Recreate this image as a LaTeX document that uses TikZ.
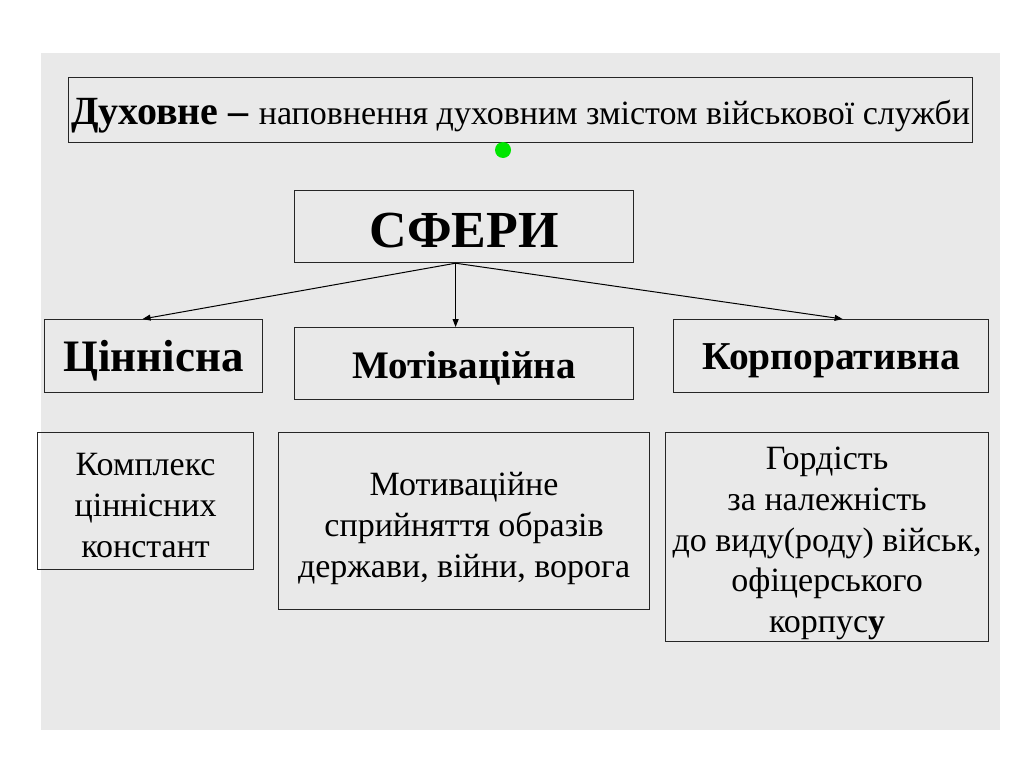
\documentclass[tikz,border=0pt]{standalone}
\usepackage{fontspec}
\setmainfont{Liberation Serif}
\usetikzlibrary{arrows.meta}
\definecolor{bggray}{RGB}{233,233,233}
\definecolor{dotgreen}{RGB}{0,230,0}
\tikzset{
  box/.style={draw=black!85, line width=1.2pt, anchor=north west, inner sep=0pt},
  txt/.style={align=center, inner sep=0pt},
  conn/.style={line width=1pt, -{Triangle[length=8pt,width=6pt]}},
  body/.style={font=\fontsize{34}{41}\selectfont},
}
\begin{document}
\begin{tikzpicture}[x=1pt,y=-1pt]
\useasboundingbox (0,0) rectangle (1024,768);
\fill[white] (0,0) rectangle (1024,768);
\fill[bggray] (41,53) rectangle (1000,730);

\node[box, minimum width=904pt, minimum height=65pt] (title) at (68,77) {};
\node[txt] (titlet) at ([yshift=-5.5pt]title.center)
  {\fontsize{40}{44}\selectfont\textbf{Духовне –} \fontsize{34}{40}\selectfont наповнення духовним змістом військової служби};
\fill[dotgreen] (503,150) circle (8);
\node[circle, inner sep=0pt, minimum size=16pt] (dot) at (503,150) {};

\node[box, minimum width=339pt, minimum height=72pt] (sf) at (294,190) {};
\node[txt, font=\fontsize{52}{56}\selectfont\bfseries] (sft) at ([yshift=-4pt]sf.center) {СФЕРИ};

\node[box, minimum width=218pt, minimum height=73pt] (cin) at (44,319) {};
\node[txt, font=\fontsize{45}{50}\selectfont\bfseries] (cint) at ([yshift=-5pt]cin.center) {Ціннісна};
\node[box, minimum width=339pt, minimum height=72pt] (mot) at (294,327) {};
\node[txt, font=\fontsize{39}{42}\selectfont\bfseries] (mott) at ([yshift=-4.5pt]mot.center) {Мотіваційна};
\node[box, minimum width=315pt, minimum height=73pt] (kor) at (673,319) {};
\node[txt, font=\fontsize{39.5}{42}\selectfont\bfseries] (kort) at ([yshift=-4.5pt]kor.center) {Корпоративна};

\node[box, minimum width=216pt, minimum height=137pt] (b1) at (37,432) {};
\node[txt, body] (b1t) at ([yshift=-4pt]b1.center) {Комплекс\\ціннісних\\констант};
\node[box, minimum width=371pt, minimum height=177pt] (b2) at (278,432) {};
\node[txt, body] (b2t) at ([yshift=-7pt]b2.center) {Мотиваційне\\сприйняття образів\\держави, війни, ворога};
\node[box, minimum width=323pt, minimum height=209pt] (b3) at (665,432) {};
\node[txt, font=\fontsize{34}{40.8}\selectfont] (b3t) at ([yshift=-6.5pt]b3.center) {Гордість\\за належність\\до виду(роду) військ,\\офіцерського\\корпус\textbf{у}};

\draw[conn] ([xshift=-8.5pt]sf.south) -- ([xshift=-11pt]cin.north);
\draw[conn] ([xshift=-8.5pt]sf.south) -- ([xshift=-8.5pt]mot.north);
\draw[conn] ([xshift=-8.5pt]sf.south) -- ([xshift=11.5pt]kor.north);
\end{tikzpicture}
\end{document}
